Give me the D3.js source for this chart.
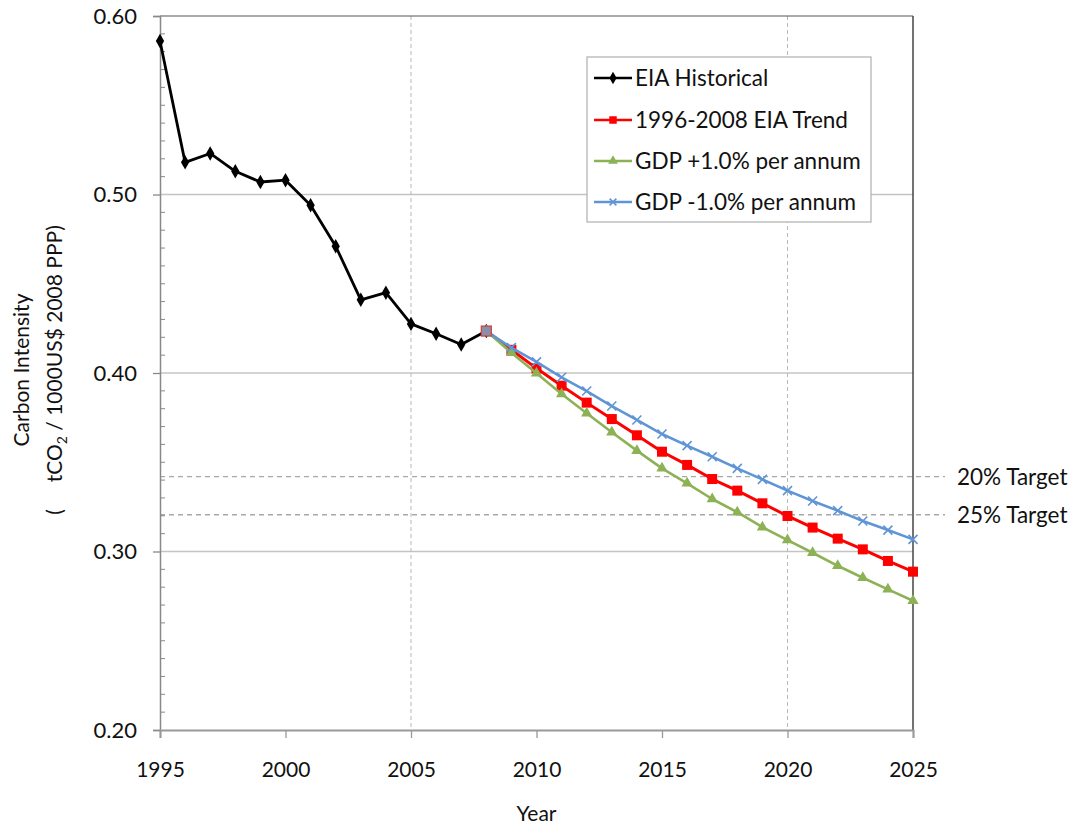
<!DOCTYPE html>
<html>
<head>
<meta charset="utf-8">
<script src="https://cdn.jsdelivr.net/npm/d3@7"></script>
<style>
  html, body { margin: 0; padding: 0; background: #fff; }
  svg text { font-family: Lato, "Open Sans", sans-serif; fill: #111; }
</style>
</head>
<body>
<svg id="chart" width="1078" height="827"></svg>
<script>
// Historical carbon intensity (tCO2 per 1000 US$ 2008 PPP)
const historicalYears = [1995, 1996, 1997, 1998, 1999, 2000, 2001, 2002, 2003, 2004, 2005, 2006, 2007, 2008];
const historicalValues = [0.586, 0.518, 0.523, 0.513, 0.507, 0.508, 0.494, 0.471, 0.441, 0.445, 0.4275, 0.422, 0.416, 0.4235];

// Projections from 2008 to 2025
const projectionYears = [2008, 2009, 2010, 2011, 2012, 2013, 2014, 2015, 2016, 2017, 2018, 2019, 2020, 2021, 2022, 2023, 2024, 2025];
const trendValues = [0.4235, 0.413, 0.4026, 0.3929, 0.3834, 0.3742, 0.3651, 0.3559, 0.3485, 0.3406, 0.3341, 0.327, 0.3199, 0.3134, 0.3072, 0.3012, 0.2947, 0.2887];
const gdpPlusValues = [0.4235, 0.4114, 0.3998, 0.3882, 0.3774, 0.3668, 0.3565, 0.3466, 0.3382, 0.3294, 0.322, 0.3136, 0.3064, 0.2993, 0.292, 0.2853, 0.2788, 0.2724];
const gdpMinusValues = [0.4235, 0.4142, 0.4062, 0.3976, 0.3899, 0.3815, 0.3737, 0.3658, 0.3593, 0.3531, 0.3466, 0.3404, 0.3341, 0.3283, 0.3229, 0.3171, 0.312, 0.3068];

// Reduction targets relative to 2005
const targetLabels = ["20% Target", "25% Target"];
const targetValues = [0.342, 0.3206];

const xTicks = [1995, 2000, 2005, 2010, 2015, 2020, 2025];
const yTicks = [0.20, 0.30, 0.40, 0.50, 0.60];
const xDashedGrid = [2005, 2020];
const ySolidGrid = [0.30, 0.40, 0.50];

const seriesNames = ["EIA Historical", "1996-2008 EIA Trend", "GDP +1.0% per annum", "GDP -1.0% per annum"];

const svg = d3.select("#chart");
const plotLeft = 160, plotRight = 913, plotTop = 16, plotBottom = 730;

const x = d3.scaleLinear().domain([1995, 2025]).range([plotLeft, plotRight]);
const y = d3.scaleLinear().domain([0.20, 0.60]).range([plotBottom, plotTop]);

// Gridlines
svg.append("g").selectAll("line").data(ySolidGrid).join("line")
  .attr("x1", plotLeft).attr("x2", plotRight)
  .attr("y1", d => y(d)).attr("y2", d => y(d))
  .attr("stroke", "#c4c4c4").attr("stroke-width", 1.3);

svg.append("g").selectAll("line").data(xDashedGrid).join("line")
  .attr("x1", d => x(d)).attr("x2", d => x(d))
  .attr("y1", plotTop).attr("y2", plotBottom)
  .attr("stroke", "#b8b8b8").attr("stroke-width", 1).attr("stroke-dasharray", "4,3");

// Target lines extend past the plot to their labels
const tg = svg.append("g");
tg.selectAll("line").data(targetValues).join("line")
  .attr("x1", plotLeft).attr("x2", 945)
  .attr("y1", d => y(d)).attr("y2", d => y(d))
  .attr("stroke", "#a8a8a8").attr("stroke-width", 1.3).attr("stroke-dasharray", "5,4");
tg.selectAll("text").data(targetValues).join("text")
  .attr("x", 957).attr("y", d => y(d)).attr("dy", "0.36em")
  .attr("font-size", 22.5)
  .text((d, i) => targetLabels[i]);

// Plot frame: top and right borders
svg.append("line").attr("x1", plotLeft).attr("x2", plotRight).attr("y1", plotTop).attr("y2", plotTop)
  .attr("stroke", "#555").attr("stroke-width", 1.2);
svg.append("line").attr("x1", plotRight).attr("x2", plotRight).attr("y1", plotTop).attr("y2", plotBottom)
  .attr("stroke", "#444").attr("stroke-width", 1.5);

// Y axis with minor ticks every 0.01
const yMinor = d3.range(21, 60).map(v => v / 100).filter(v => Math.round(v * 100) % 10 !== 0);
svg.append("g").selectAll("line").data(yMinor).join("line")
  .attr("x1", plotLeft).attr("x2", plotLeft + 5)
  .attr("y1", d => y(d)).attr("y2", d => y(d))
  .attr("stroke", "#888").attr("stroke-width", 1);

const yAxis = svg.append("g").attr("transform", `translate(${plotLeft},0)`)
  .call(d3.axisLeft(y).tickValues(yTicks).tickFormat(d3.format(".2f")).tickSize(7).tickPadding(16));
yAxis.select(".domain").attr("stroke", "#888").attr("stroke-width", 1.5);
yAxis.selectAll(".tick line").attr("stroke", "#888").attr("stroke-width", 1.3);
yAxis.selectAll(".tick text").attr("font-size", 22).attr("font-family", "Lato, sans-serif").attr("fill", "#111");

const xAxis = svg.append("g").attr("transform", `translate(0,${plotBottom})`)
  .call(d3.axisBottom(x).tickValues(xTicks).tickFormat(d3.format("d")).tickSize(8).tickPadding(24));
xAxis.select(".domain").attr("stroke", "#999").attr("stroke-width", 2);
xAxis.selectAll(".tick line").attr("stroke", "#999").attr("stroke-width", 1.3);
xAxis.selectAll(".tick text").attr("font-size", 21).attr("font-family", "Lato, sans-serif").attr("fill", "#111");

// Axis titles
svg.append("text").attr("x", (plotLeft + plotRight) / 2).attr("y", 821)
  .attr("text-anchor", "middle").attr("font-size", 21).text("Year");

const yTitle = svg.append("g").attr("transform", "translate(0,370) rotate(-90)");
yTitle.append("text").attr("x", 0).attr("y", 29).attr("text-anchor", "middle")
  .attr("font-size", 21).text("Carbon Intensity");
const t2 = yTitle.append("text").attr("x", 0).attr("y", 62).attr("text-anchor", "middle")
  .attr("font-size", 21).attr("xml:space", "preserve");
t2.append("tspan").text("(     tCO");
t2.append("tspan").attr("font-size", 14).attr("dy", 5).text("2");
t2.append("tspan").attr("dy", -5).text(" / 1000US$ 2008 PPP)");

// Series
const line = d3.line().x(d => x(d[0])).y(d => y(d[1]));
const series = [
  { name: seriesNames[0], years: historicalYears, values: historicalValues, color: "#000000", width: 2.8, marker: "diamond" },
  { name: seriesNames[1], years: projectionYears, values: trendValues, color: "#ff0000", width: 3, marker: "square" },
  { name: seriesNames[2], years: projectionYears, values: gdpPlusValues, color: "#8db255", width: 2.6, marker: "triangle" },
  { name: seriesNames[3], years: projectionYears, values: gdpMinusValues, color: "#5f95d6", width: 2.6, marker: "cross" }
];

function drawMarker(g, type, cx, cy, color, scale) {
  const s = scale || 1;
  if (type === "diamond") {
    g.append("path").attr("d", d3.symbol(d3.symbolDiamond, 60 * s)())
      .attr("transform", `translate(${cx},${cy})`).attr("fill", color);
  } else if (type === "square") {
    g.append("rect").attr("x", cx - 5 * s).attr("y", cy - 5 * s)
      .attr("width", 10 * s).attr("height", 10 * s).attr("fill", color);
  } else if (type === "triangle") {
    g.append("path").attr("d", d3.symbol(d3.symbolTriangle, 55 * s)())
      .attr("transform", `translate(${cx},${cy})`).attr("fill", color);
  } else if (type === "cross") {
    const r = 4.5 * s;
    g.append("path").attr("d", `M${cx - r},${cy - r}L${cx + r},${cy + r}M${cx - r},${cy + r}L${cx + r},${cy - r}`)
      .attr("stroke", color).attr("stroke-width", 1.6).attr("fill", "none");
  }
}

series.forEach(s => {
  const pts = s.years.map((yr, i) => [yr, s.values[i]]);
  const g = svg.append("g");
  g.append("path").datum(pts).attr("d", line)
    .attr("fill", "none").attr("stroke", s.color).attr("stroke-width", s.width)
    .attr("stroke-linejoin", "round");
  pts.forEach(p => drawMarker(g, s.marker, x(p[0]), y(p[1]), s.color));
});

// Shared 2008 starting point
svg.append("rect").attr("x", x(2008) - 5).attr("y", y(trendValues[0]) - 5)
  .attr("width", 10).attr("height", 10)
  .attr("fill", "#8a8fa8").attr("stroke", "#d04040").attr("stroke-width", 1.2);

// Legend
const lg = svg.append("g");
lg.append("rect").attr("x", 587).attr("y", 57).attr("width", 284).attr("height", 165)
  .attr("fill", "#fff").attr("stroke", "#b0b0b0").attr("stroke-width", 1.2);
const rowY = [78, 120, 161, 202];
series.forEach((s, i) => {
  lg.append("line").attr("x1", 594).attr("x2", 632).attr("y1", rowY[i]).attr("y2", rowY[i])
    .attr("stroke", s.color).attr("stroke-width", 2.5);
  drawMarker(lg, s.marker, 613, rowY[i], s.color, 0.75);
  lg.append("text").attr("x", 635).attr("y", rowY[i]).attr("dy", "0.36em")
    .attr("font-size", 22.5).text(s.name);
});
</script>
</body>
</html>
